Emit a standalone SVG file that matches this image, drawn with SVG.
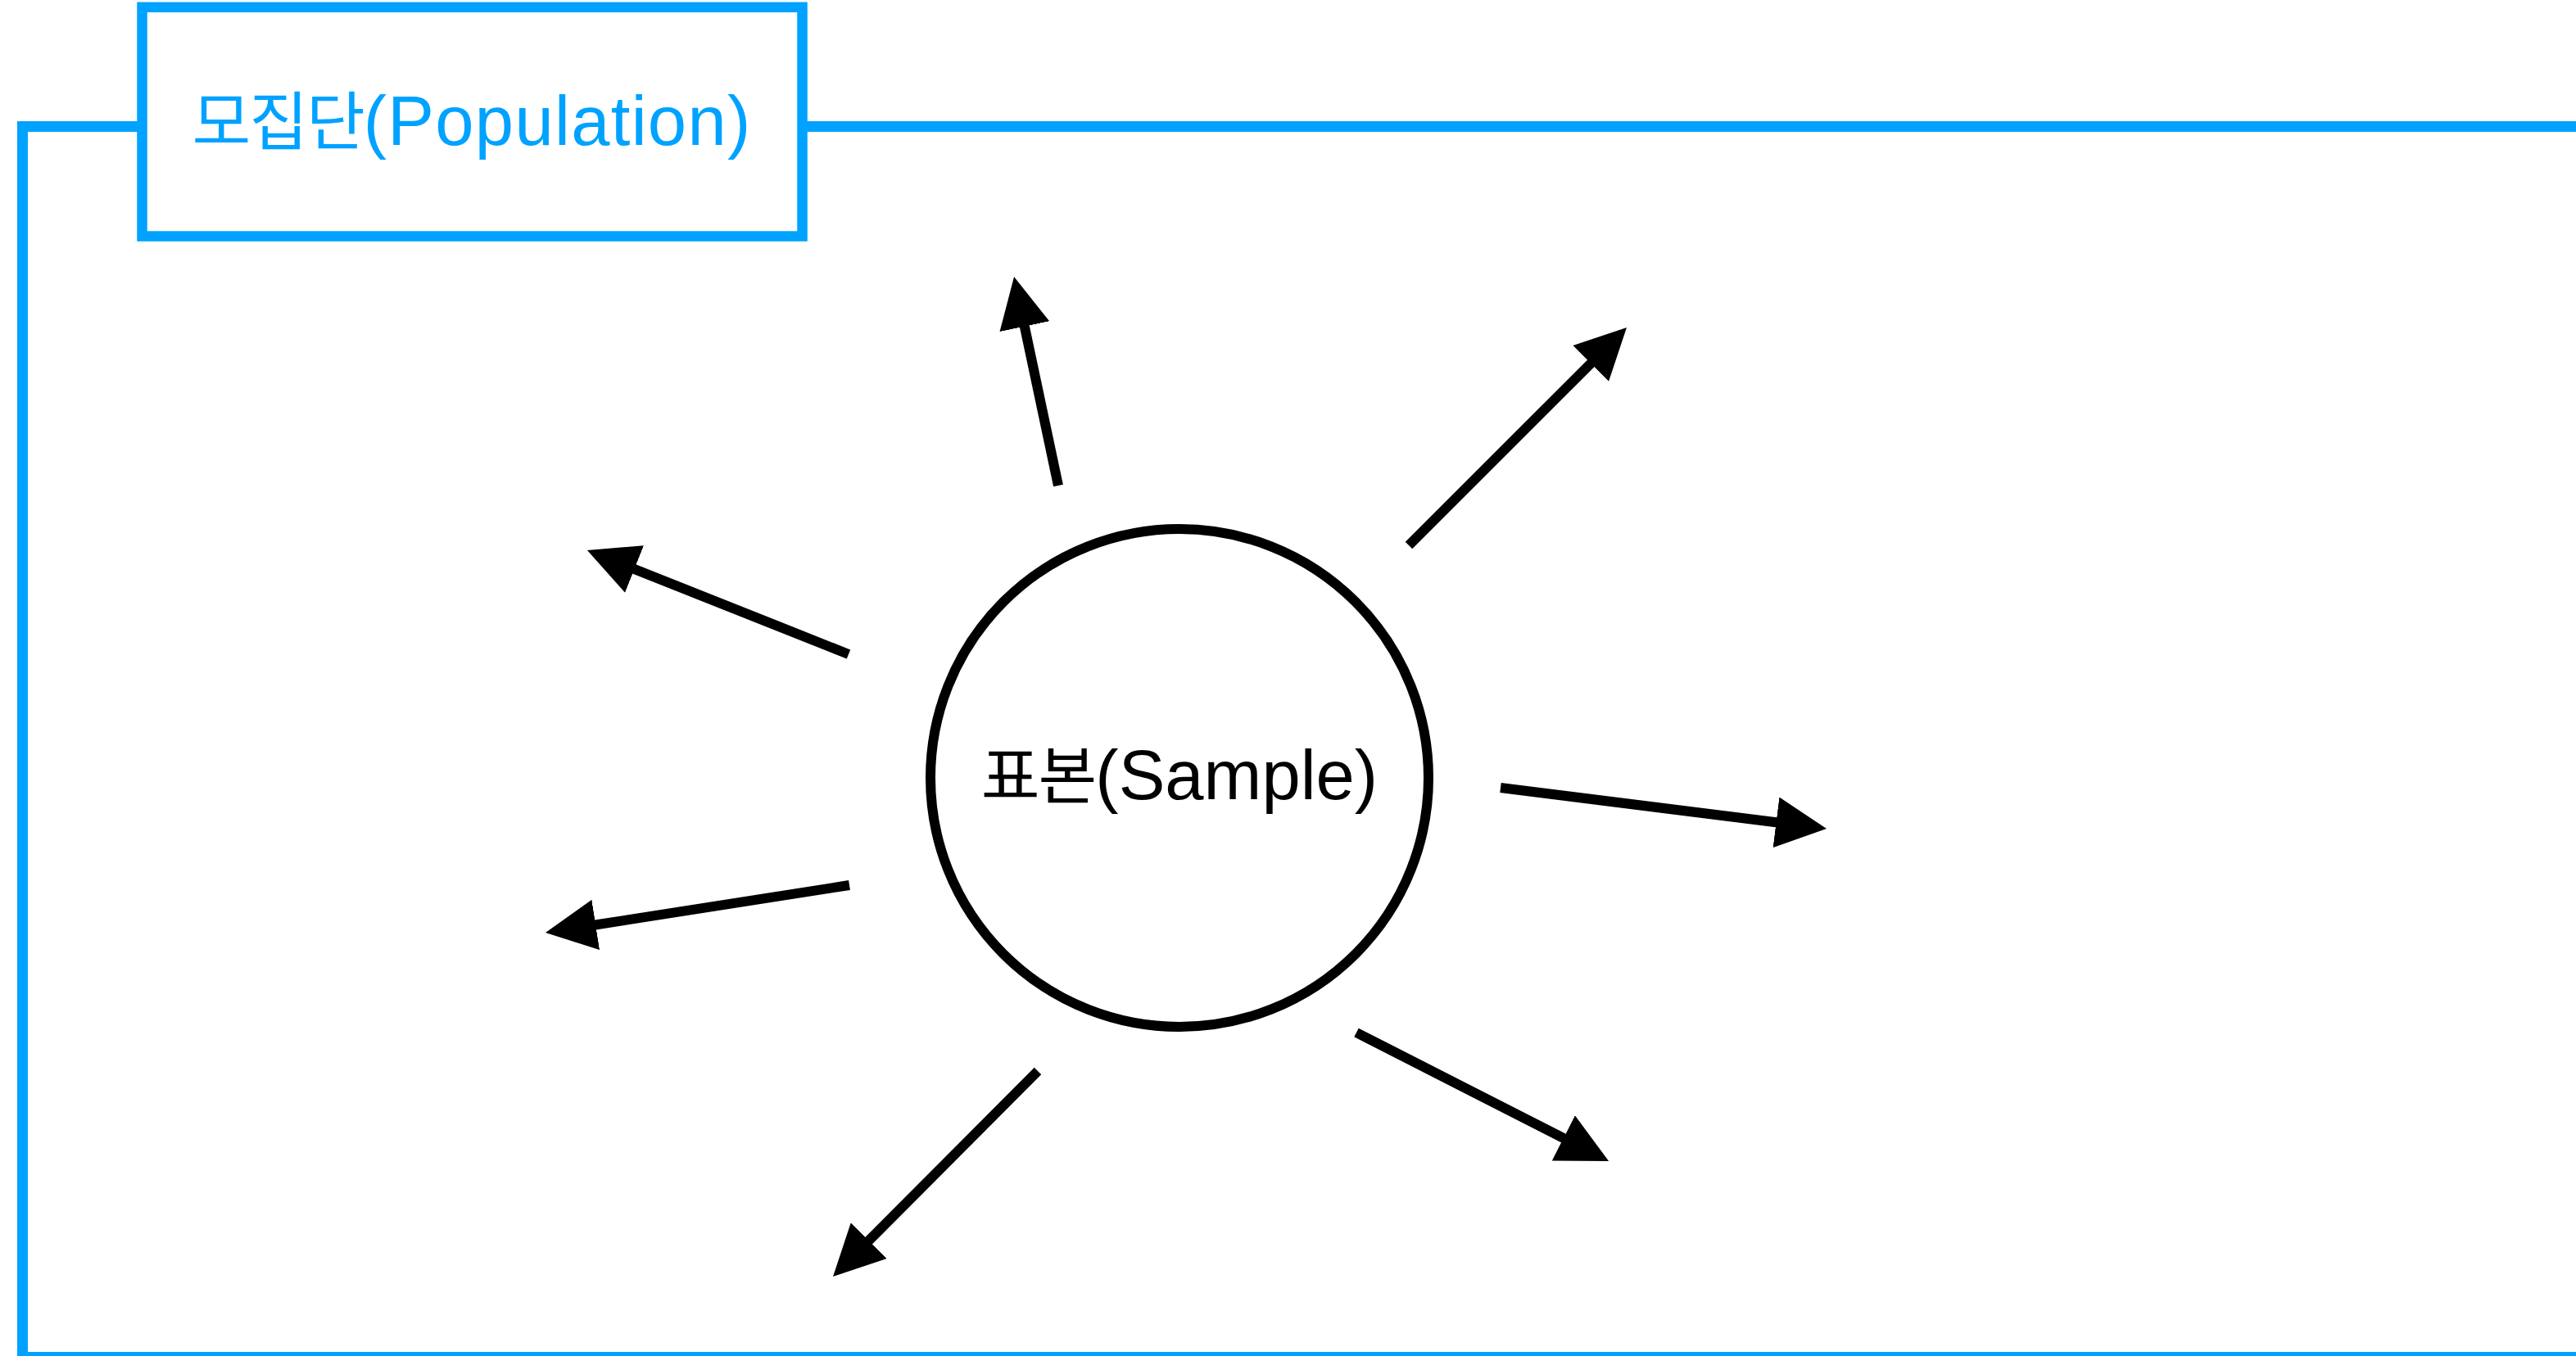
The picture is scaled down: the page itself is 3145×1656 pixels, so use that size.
<svg xmlns="http://www.w3.org/2000/svg" width="3145" height="1656" viewBox="0 0 3145 1656">
  <style>
    .frame { fill: none; stroke: #00A2FF; stroke-width: 13; }
    .box { fill: #FFFFFF; stroke: #00A2FF; stroke-width: 12.5; }
    .circle { fill: #FFFFFF; stroke: #000000; stroke-width: 12; }
    .lbl { font-family: "Liberation Sans", "Noto Sans CJK KR", sans-serif; font-size: 85px; text-anchor: middle; }
    .ko { font-family: "Noto Sans CJK KR", sans-serif; font-size: 78px; letter-spacing: -2px; }
    .wide { letter-spacing: 1.3px; }
    .arrow { stroke: #000000; stroke-width: 12; fill: none; marker-end: url(#head); }
  </style>
  <defs>
    <marker id="head" markerUnits="userSpaceOnUse" markerWidth="62" markerHeight="62" refX="12" refY="31" orient="auto" viewBox="0 0 62 62">
      <path d="M0,0 L62,31 L0,62 Z" fill="#000000"/>
    </marker>
  </defs>
  <rect x="0" y="0" width="3145" height="1656" fill="#FFFFFF"/>
  <g id="population">
    <path class="frame" d="M3170,154.5 H27.5 V1657.5 H3170"/>
    <rect class="box" x="173.5" y="8.8" width="806" height="279.7"/>
    <text class="lbl" x="576" y="177" fill="#00A2FF"><tspan class="ko">모집단</tspan><tspan class="wide">(Population)</tspan></text>
  </g>
  <g id="sample">
    <circle class="circle" cx="1440" cy="950" r="304"/>
    <text class="lbl" x="1440" y="976" fill="#000000"><tspan class="ko">표본</tspan>(Sample)</text>
  </g>
  <g id="connectors">
    <line class="arrow" x1="1292" y1="593" x2="1248.4" y2="386.9"/>
    <line class="arrow" x1="1036" y1="799" x2="763.4" y2="690.5"/>
    <line class="arrow" x1="1037" y1="1081" x2="715.4" y2="1131.3"/>
    <line class="arrow" x1="1720" y1="666" x2="1950.6" y2="435.4"/>
    <line class="arrow" x1="1832" y1="962" x2="2180.4" y2="1005.8"/>
    <line class="arrow" x1="1656" y1="1261" x2="1919.5" y2="1395.3"/>
    <line class="arrow" x1="1267" y1="1308" x2="1052.3" y2="1523.6"/>
  </g>
</svg>
